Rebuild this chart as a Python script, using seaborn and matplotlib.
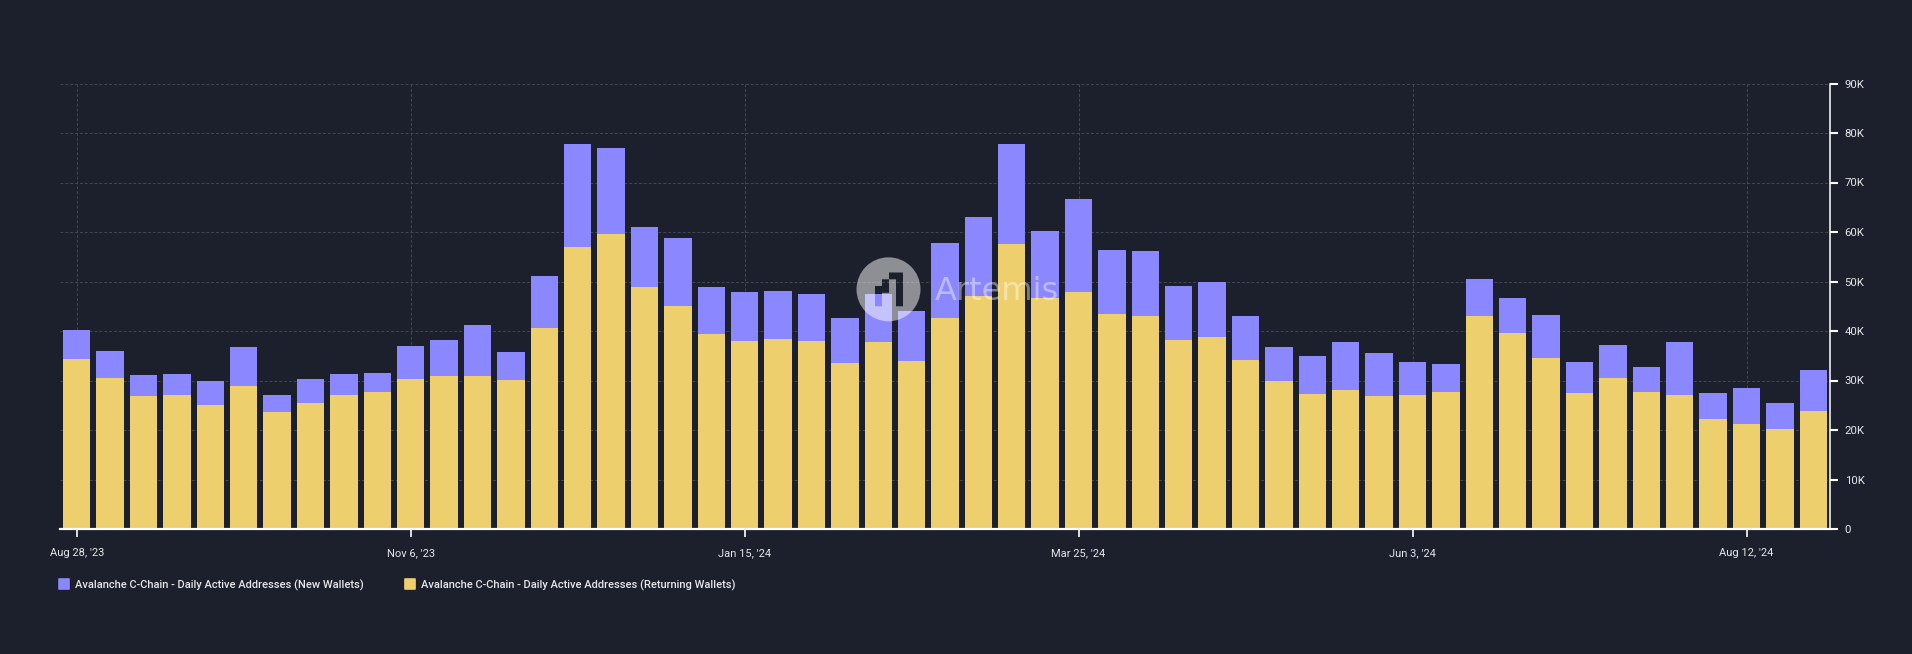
import pandas as pd
import matplotlib.pyplot as plt
import seaborn as sns
from matplotlib.lines import Line2D
from matplotlib.markers import MarkerStyle
from matplotlib.patches import PathPatch
from matplotlib.path import Path
from matplotlib.transforms import IdentityTransform, Affine2D

# font
plt.rcParams['font.family'] = 'Roboto'

# values in thousands
total_k = [40.3, 35.9, 31.2, 31.4, 29.8, 36.7, 27.0, 30.4, 31.4, 31.6,
           36.9, 38.1, 41.3, 35.7, 51.2, 77.7, 76.9, 61.1, 58.7, 48.8,
           47.8, 48.0, 47.4, 42.6, 47.4, 44.0, 57.7, 63.0, 77.7, 60.3,
           66.6, 56.3, 56.1, 49.0, 50.0, 43.0, 36.7, 34.9, 37.7, 35.5,
           33.7, 33.3, 50.6, 46.6, 43.2, 33.7, 37.1, 32.7, 37.7, 27.4,
           28.4, 25.4, 32.1]
returning_k = [34.3, 30.6, 26.8, 27.0, 25.0, 28.8, 23.6, 25.4, 27.0, 27.6,
               30.4, 31.0, 31.0, 30.2, 40.7, 56.9, 59.5, 48.8, 45.0, 39.3,
               37.9, 38.3, 37.9, 33.5, 37.7, 33.9, 42.6, 47.0, 57.5, 46.6,
               47.8, 43.4, 43.0, 38.1, 38.7, 34.1, 29.8, 27.2, 28.0, 26.8,
               27.0, 27.6, 43.0, 39.5, 34.5, 27.4, 30.6, 27.6, 27.0, 22.2,
               21.3, 20.3, 23.8]
x_tick_idx = [0, 10, 20, 30, 40, 50]
x_tick_labels = ["Aug 28, '23", "Nov 6, '23", "Jan 15, '24", "Mar 25, '24", "Jun 3, '24", "Aug 12, '24"]
y_ticks = [0, 10, 20, 30, 40, 50, 60, 70, 80, 90]
y_tick_labels = ['0', '10K', '20K', '30K', '40K', '50K', '60K', '70K', '80K', '90K']
new_label = 'Avalanche C-Chain - Daily Active Addresses (New Wallets)'
returning_label = 'Avalanche C-Chain - Daily Active Addresses (Returning Wallets)'

df = pd.DataFrame({'week': range(len(total_k)), 'total': total_k, 'returning': returning_k})

BG = '#1c1f2c'
PURPLE = '#8a87ff'
YELLOW = '#eecf6d'

fig = plt.figure(figsize=(19.12, 6.54), dpi=100, facecolor=BG)
ax = fig.add_axes([60 / 1912, 125 / 654, 1770 / 1912, 445.5 / 654], facecolor=BG)

# stacked bars: the total behind, the returning part in front
sns.barplot(x='week', y='total', data=df, color=PURPLE, saturation=1, width=0.82, ax=ax)
sns.barplot(x='week', y='returning', data=df, color=YELLOW, saturation=1, width=0.82, ax=ax)

ax.set_xlim(-0.5, len(total_k) - 0.5)
ax.set_ylim(0, 90)
ax.set_xlabel('')
ax.set_ylabel('')
ax.set_xticks(x_tick_idx, x_tick_labels)
ax.yaxis.tick_right()
ax.set_yticks(y_ticks, y_tick_labels)
ax.set_axisbelow(True)
ax.grid(True, color='#454853', linestyle=(0, (3, 2)), linewidth=0.7)
ax.tick_params(axis='x', colors='white', labelcolor='#e6e7ea', length=5.5, width=1.2, labelsize=8, pad=8)
ax.tick_params(axis='y', colors='white', labelcolor='#e6e7ea', length=5.5, width=1.5, labelsize=8.2, pad=5)

for side in ['top', 'left']:
    ax.spines[side].set_visible(False)
ax.spines['bottom'].set_color('white')
ax.spines['bottom'].set_linewidth(1.6)
ax.spines['right'].set_color('white')
ax.spines['right'].set_linewidth(1.1)

# legend
square = MarkerStyle('s', joinstyle='round')
handles = [Line2D([], [], linestyle='', marker=square, markersize=7, markeredgewidth=1.2, color=PURPLE),
           Line2D([], [], linestyle='', marker=square, markersize=7, markeredgewidth=1.2, color=YELLOW)]
fig.legend(handles, [new_label, returning_label], ncol=2, frameon=False, loc='center left',
           bbox_to_anchor=(48 / 1912, 1 - 585 / 654), labelcolor='#e6e7ea',
           prop={'size': 8.0, 'weight': 'medium'},
           handlelength=1, handletextpad=0.5, columnspacing=3.7)

# watermark: a circle with the logo cut out of it, in pixels from the top left
x0, x1, x2, x3, x4 = 875, 882, 889, 896, 903
y0, y1, y2, y3, y4 = 272.5, 279.3, 286, 292.8, 306.3
logo = [(x2, y0), (x4, y0), (x4, y4), (x3, y4), (x3, y1), (x2, y1), (x2, y3), (x1, y3), (x1, y4), (x0, y4),
        (x0, y2), (x1, y2), (x1, y1), (x2, y1), (x2, y0)]
logo = [(x, 654 - y) for x, y in logo]
circle = Path.unit_circle().transformed(Affine2D().scale(32).translate(888.5, 654 - 289.3))
hole = Path(logo, closed=True)
mark = Path.make_compound_path(circle, hole)
fig.add_artist(PathPatch(mark, transform=IdentityTransform(), facecolor='white', alpha=0.5, edgecolor='none', zorder=5))
fig.text(935 / 1912, 1 - 300 / 654, 'Artemis', color='white', alpha=0.42, fontsize=23, va='baseline', ha='left',
         family='DejaVu Sans', zorder=6)

plt.savefig('out.png', facecolor=BG)
plt.close()
